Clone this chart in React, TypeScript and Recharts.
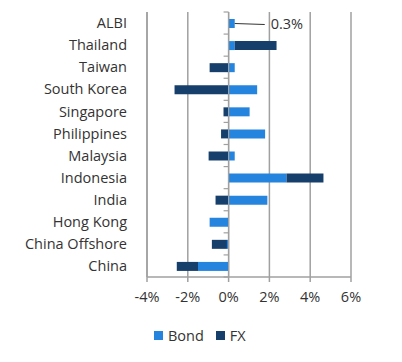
import React from "react";
import {
  BarChart,
  Bar,
  XAxis,
  YAxis,
  CartesianGrid,
  ReferenceLine,
  LabelList,
} from "recharts";

const markets = [
  "ALBI",
  "Thailand",
  "Taiwan",
  "South Korea",
  "Singapore",
  "Philippines",
  "Malaysia",
  "Indonesia",
  "India",
  "Hong Kong",
  "China Offshore",
  "China",
];
const bondReturns = [0.3, 0.3, 0.3, 1.4, 1.03, 1.79, 0.3, 2.84, 1.9, -0.93, -0.08, -1.5];
const fxReturns = [0, 2.05, -0.93, -2.65, -0.25, -0.37, -0.98, 1.81, -0.64, 0, -0.74, -1.04];
const xTicks = [-4, -2, 0, 2, 4, 6];

const BOND = "#2484DE";
const FX = "#163F6B";
const GRID = "#a0a0a0";
const TEXT = "#333";
const FONT = "'Open Sans', sans-serif";
const FS = 14.5;

const data = markets.map((name, i) => ({
  name,
  bond: bondReturns[i],
  fx: fxReturns[i],
}));

// zero line with Excel-style tick marks between categories
function ZeroAxis(props: any) {
  const { x1, y1, x2, y2 } = props;
  const n = markets.length;
  const step = (y2 - y1) / n;
  const marks = [];
  for (let i = 0; i <= n; i++) {
    const y = y1 + i * step;
    marks.push(
      <line key={i} x1={x1 - 5} x2={x1} y1={y} y2={y} stroke={GRID} strokeWidth={1.2} />
    );
  }
  return (
    <g>
      <line x1={x1} y1={y1} x2={x2} y2={y2} stroke={GRID} strokeWidth={1.2} />
      {marks}
    </g>
  );
}

function AlbiLabel(props: any) {
  const { x, y, width, height, value, index } = props;
  if (index !== 0) return null;
  const end = x + width;
  const cy = y + height / 2;
  return (
    <g>
      <line x1={end} y1={cy} x2={end + 30} y2={cy + 1} stroke="#333" strokeWidth={1} />
      <text
        x={end + 36}
        y={cy + 2}
        dominantBaseline="middle"
        fontSize={FS}
        fontFamily={FONT}
        fill={TEXT}
      >
        {`${value}%`}
      </text>
    </g>
  );
}

export default function App() {
  return (
    <div style={{ position: "absolute", left: 0, top: 0, width: 402, height: 362, background: "#fff" }}>
      <BarChart
        width={402}
        height={362}
        data={data}
        layout="vertical"
        stackOffset="sign"
        margin={{ top: 12, right: 51, bottom: 55, left: 0 }}
      >
        <CartesianGrid horizontal={false} stroke={GRID} strokeWidth={1.5} />
        <XAxis
          type="number"
          domain={[-4, 6]}
          ticks={xTicks}
          tickFormatter={(v: number) => `${v}%`}
          axisLine={{ stroke: GRID, strokeWidth: 1.5 }}
          tickLine={{ stroke: GRID, strokeWidth: 1.5 }}
          tickSize={5}
          tickMargin={10}
          height={30}
          tick={{ fill: TEXT, fontSize: FS, fontFamily: FONT }}
        />
        <YAxis
          type="category"
          dataKey="name"
          width={147}
          axisLine={{ stroke: GRID, strokeWidth: 1.5 }}
          tickLine={false}
          tickMargin={14}
          interval={0}
          tick={{ fill: TEXT, fontSize: FS, fontFamily: FONT }}
        />
        <ReferenceLine x={0} shape={ZeroAxis} />
        <Bar dataKey="bond" stackId="s" fill={BOND} barSize={9} isAnimationActive={false}>
          <LabelList dataKey="bond" content={AlbiLabel} />
        </Bar>
        <Bar dataKey="fx" stackId="s" fill={FX} barSize={9} isAnimationActive={false} />
      </BarChart>
      <div
        style={{
          position: "absolute",
          top: 326,
          left: 154,
          display: "flex",
          alignItems: "center",
          fontFamily: FONT,
          fontSize: FS,
          color: TEXT,
        }}
      >
        <span style={{ width: 9, height: 9, background: BOND, display: "inline-block", marginRight: 5 }} />
        <span style={{ marginRight: 12 }}>Bond</span>
        <span style={{ width: 9, height: 9, background: FX, display: "inline-block", marginRight: 5 }} />
        <span>FX</span>
      </div>
    </div>
  );
}
